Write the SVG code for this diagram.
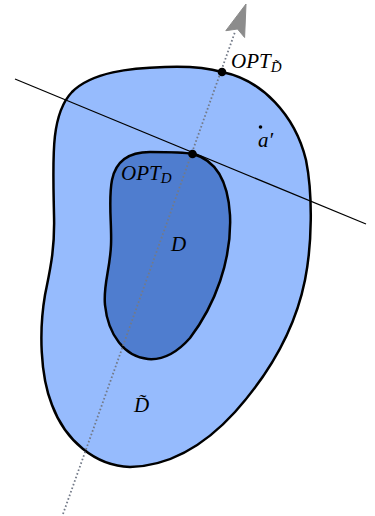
<svg xmlns="http://www.w3.org/2000/svg" width="375" height="516" viewBox="0 0 375 516">
<style>
.region{stroke:#000;stroke-width:2.5;stroke-linejoin:round}
.outer{fill:#96bbfd}
.inner{fill:#4f7dcf}
.lbl{font-family:"Liberation Serif",serif;font-style:italic;font-size:21px;fill:#000}
.sub{font-size:15px}
.dot{fill:#000}
</style>
<g id="D-tilde">
<path class="region outer" d="M222,72 C262,80 295,115 306,160 C313,195 312,245 305,280 C295,330 268,375 235,412 C205,445 170,466 130,467 C95,466 65,440 52,405 C40,375 39,330 45,295 C50,270 55,250 54,215 C53,160 50,115 72,92 C92,72 130,68 165,67 C190,66 208,68 222,72 Z"/>
<text class="lbl" x="134" y="412">D&#771;</text>
</g>
<g id="D">
<path class="region inner" d="M193,154 C215,160 228,180 230,215 C232,260 215,305 190,338 C175,355 160,360 148,359 C125,357 108,335 105,305 C103,285 110,270 111,245 C112,225 108,200 112,180 C116,160 130,152 150,152 C170,152 183,152 193,154 Z"/>
<text class="lbl" x="171" y="251">D</text>
</g>
<g id="connectors">
<line x1="15" y1="79" x2="366" y2="224" stroke="#000" stroke-width="1.2"/>
<line x1="63" y1="514" x2="235" y2="32" stroke="#737a88" stroke-width="1.8" stroke-dasharray="1.6 2.2"/>
<path d="M246,4 L244.6,37.5 L237.5,29 L225.8,30.7 Z" fill="#8c8c8c" stroke="#8c8c8c" stroke-width="1" stroke-linejoin="round"/>
</g>
<g id="opt-D-tilde">
<circle class="dot" cx="222" cy="72" r="4.3"/>
<text class="lbl" x="231" y="68">OPT<tspan class="sub" dy="4">D&#771;</tspan></text>
</g>
<g id="opt-D">
<circle class="dot" cx="192.5" cy="154" r="4.3"/>
<text class="lbl" x="121" y="180">OPT<tspan class="sub" dy="3">D</tspan></text>
</g>
<g id="a-prime">
<circle class="dot" cx="260.5" cy="127" r="1.8"/>
<text class="lbl" x="258" y="147">a&#8242;</text>
</g>
</svg>
